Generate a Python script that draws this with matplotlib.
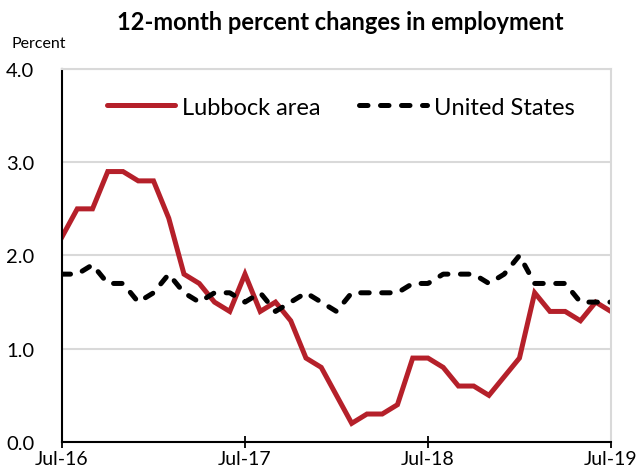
import matplotlib.pyplot as plt
import numpy as np

plt.rcParams['font.family'] = ['Lato', 'DejaVu Sans']

# monthly, Jul-16 .. Jul-19
lubbock = [2.2, 2.5, 2.5, 2.9, 2.9, 2.8, 2.8, 2.4, 1.8, 1.7, 1.5, 1.4,
           1.8, 1.4, 1.5, 1.3, 0.9, 0.8, 0.5, 0.2, 0.3, 0.3, 0.4, 0.9,
           0.9, 0.8, 0.6, 0.6, 0.5, 0.7, 0.9, 1.6, 1.4, 1.4, 1.3, 1.5,
           1.4]
us = [1.8, 1.8, 1.9, 1.7, 1.7, 1.5, 1.6, 1.8, 1.6, 1.5, 1.6, 1.6,
      1.5, 1.6, 1.4, 1.5, 1.6, 1.5, 1.4, 1.6, 1.6, 1.6, 1.6, 1.7,
      1.7, 1.8, 1.8, 1.8, 1.7, 1.8, 2.0, 1.7, 1.7, 1.7, 1.5, 1.5,
      1.5]
tick_labels = ['Jul-16', 'Jul-17', 'Jul-18', 'Jul-19']

months = np.arange(len(lubbock))

fig = plt.figure(figsize=(6.42, 4.77), dpi=100)
ax = fig.add_axes([0.0966, 0.0713, 0.855, 0.782])

ax.plot(months, lubbock, color='#B5202A', lw=3.6, label='Lubbock area',
        solid_joinstyle='miter')
ax.plot(months, us, color='black', lw=3.6, ls=(0, (1.7, 2.5)),
        label='United States', dash_capstyle='round')

ax.set_xlim(0, 36)
ax.set_ylim(0, 4)
ax.set_xticks([0, 12, 24, 36])
ax.set_xticklabels(tick_labels, fontsize=14)
ax.set_yticks([0, 1, 2, 3, 4])
ax.set_yticklabels(['%.1f' % v for v in [0, 1, 2, 3, 4]], fontsize=14.5)
ax.tick_params(axis='y', length=0, pad=20)
ax.tick_params(axis='x', direction='inout', length=9, width=1.3, pad=1)

ax.grid(axis='y', color='#d9d9d9', lw=1.5)
ax.set_axisbelow(True)
for s in ['top', 'right']:
    ax.spines[s].set_color('#d9d9d9')
    ax.spines[s].set_linewidth(1.5)
for s in ['left', 'bottom']:
    ax.spines[s].set_color('black')
    ax.spines[s].set_linewidth(1.5)

leg = ax.legend(loc='center', bbox_to_anchor=(0.508, 0.898), ncol=2,
                frameon=False, fontsize=17, handlelength=2.9,
                columnspacing=1.6, handletextpad=0.3)
for h in leg.get_lines():
    h.set_solid_capstyle('round')

fig.text(0.53, 0.953, '12-month percent changes in employment',
         ha='center', va='center', fontsize=17, fontweight='bold')
fig.text(0.018, 0.908, 'Percent', ha='left', va='center', fontsize=11.5)

fig.savefig('out.png', dpi=100)
